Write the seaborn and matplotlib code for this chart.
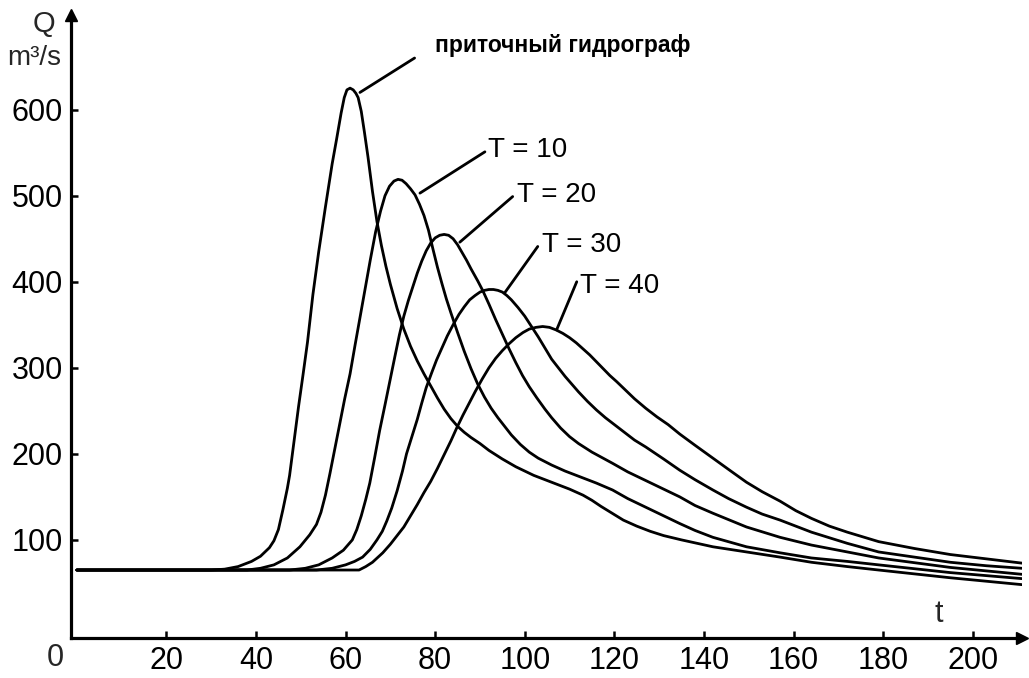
import matplotlib
matplotlib.use("Agg")
import matplotlib.pyplot as plt
import pandas as pd
import seaborn as sns

# --- hydrograph data: time t and discharge Q (m3/s) ---
t_inflow = [0, 30, 33, 36, 39, 41, 43, 44, 45, 46, 47, 47.5, 48.5, 49.5, 50.5, 51.5,
            52.7, 54, 55.5, 57, 58, 59, 59.7, 60.3, 61, 61.7, 62.3, 62.8, 63.5,
            64.2, 65, 66, 67, 68, 69, 70, 71.5, 73, 74.5, 76, 77.5, 79, 80.5, 82,
            83.5, 85, 86.5, 88, 90, 92, 95, 98, 102, 106, 110, 113, 115, 117, 119.5,
            122, 125, 128, 131, 135, 142, 149.5, 157, 164, 172, 179, 195, 211]
q_inflow = [65, 65, 66, 69, 75, 81, 91, 99, 112, 135, 160, 175, 215, 255, 292, 330,
            385, 435, 487, 537, 566, 596, 614, 623, 625, 623, 619, 614, 598,
            574, 545, 505, 470, 442, 418, 397, 369, 345, 325, 308, 293, 279, 265,
            252, 241, 232, 225, 219, 212, 204, 194, 185, 175, 167, 159, 152, 146,
            139, 131, 123, 116, 110, 105, 100, 92, 86, 80, 74, 69, 65, 56, 48]

t_T10 = [0, 38, 41, 44, 47, 49.8, 52, 53.5, 54.5, 55.5, 56.5, 57.6, 58.7, 59.8, 61,
         62.1, 63.2, 64.3, 65.5, 66.7, 67.8, 68.8, 69.8, 70.8, 71.7, 72.6, 73.5,
         74.5, 75.5, 76.5, 77.5, 78.5, 79.5, 80.5, 81.5, 82.5, 83.5, 85, 86.5, 88,
         89.5, 91, 92.5, 94, 95.5, 97, 99, 101, 103, 106, 109, 112, 116, 119.6, 123,
         127, 131, 134.6, 138, 142, 149.5, 157, 164, 172, 179, 195, 211]
q_T10 = [65, 65, 67, 71, 79, 92, 106, 118, 132, 152, 177, 206, 235, 264, 293,
         326, 358, 390, 425, 458, 482, 500, 511, 517, 519, 518, 514,
         508, 501, 490, 477, 460, 438, 417, 398, 380, 364, 341, 319, 299,
         281, 266, 253, 242, 232, 222, 211, 202, 195, 187, 180, 174, 166, 158, 148,
         138, 128, 119, 111, 103, 92, 85, 79, 75, 71, 62, 55]

t_T20 = [0, 47.5, 51, 54, 57, 59.5, 61.5, 62.5, 63.5, 64.5, 65.4, 66.5, 67.6, 68.8,
         69.9, 71, 72, 73, 74, 75, 76, 77, 78, 79, 80, 81, 82, 83, 84, 85, 86, 87,
         88, 89.5, 90.6, 92, 93.5, 95, 96.5, 98, 99.5, 101, 102.7, 104.5, 106, 108,
         110, 112, 115, 119.6, 123, 127, 131, 134.6, 138, 142, 149.5, 157, 164, 172,
         179, 195, 211]
q_T20 = [65, 65, 67, 71, 79, 88, 100, 112, 128, 147, 166, 196, 227, 257,
         285, 313, 338, 360, 378, 394, 410, 424, 436, 445, 451, 454, 455, 454,
         450, 443, 434, 425, 415, 401, 390, 374, 356, 339, 322, 306, 291, 278,
         265, 252, 242, 230, 220, 212, 202, 189, 179, 169, 159, 150, 140, 131,
         115, 103, 94, 86, 79, 68, 60]

t_T30 = [0, 53.5, 57, 60, 62, 63.8, 65.5, 67, 68.2, 69.2, 70.3, 71.5, 72.7, 73.6,
         74.8, 76, 77, 78, 79.2, 80.3, 81.5, 82.7, 84, 85.3, 86.5, 87.7, 88.9, 90,
         91, 92, 93, 94, 95, 96, 97, 98.5, 100, 101.5, 103, 104.5, 106, 107.5, 109,
         110.5, 112, 114, 116, 118, 120, 122, 124.5, 127, 131, 134.6, 138, 142,
         145.5, 149.5, 153, 157, 160.5, 164, 172, 179, 187, 195, 203, 211]
q_T30 = [65, 65, 67, 71, 75, 80, 89, 100, 110, 122, 137, 157, 180, 200,
         220, 240, 259, 277, 294, 309, 323, 337, 350, 362, 371, 379, 384, 388,
         390, 391, 391, 390, 388, 384, 379, 370, 360, 348, 336, 323, 310, 300, 290,
         281, 272, 261, 251, 242, 234, 226, 216, 208, 194, 181, 170, 158,
         148, 138, 130, 123, 116, 109, 96, 86, 80, 74, 70, 67]

t_T40 = [0, 63, 64.5, 66, 68.3, 70, 71.5, 73, 74.5, 76, 77.5, 79, 80.5, 82, 83.5,
         84.8, 86.2, 87.6, 89, 90.5, 92, 93.5, 95, 96.5, 98, 99.6, 101, 102.5, 104,
         105.5, 107, 108.5, 110, 111.5, 113, 114.5, 116, 117.5, 119, 120.5, 122.5,
         124.5, 127, 129.5, 132, 134.6, 138, 142, 146, 149.5, 153, 157, 160.5, 164,
         168, 172, 179, 187, 195, 203, 211]
q_T40 = [65, 65, 69, 74, 85, 95, 105, 115, 128, 141, 155, 168, 183, 199, 215,
         230, 245, 259, 273, 287, 300, 311, 320, 328, 335, 341, 345, 347, 348,
         347, 344, 340, 335, 329, 322, 315, 307, 299, 291, 284, 274,
         264, 253, 243, 234, 223, 210, 195, 180, 167, 156, 145, 134, 125,
         116, 109, 98, 90, 83, 78, 73]

series_names = ["приточный гидрограф", "T = 10", "T = 20", "T = 30", "T = 40"]
x_ticks = [20, 40, 60, 80, 100, 120, 140, 160, 180, 200]
y_ticks = [100, 200, 300, 400, 500, 600]

frames = []
for name, tt, qq in zip(series_names,
                        [t_inflow, t_T10, t_T20, t_T30, t_T40],
                        [q_inflow, q_T10, q_T20, q_T30, q_T40]):
    frames.append(pd.DataFrame({"t": tt, "Q": qq, "series": name}))
df = pd.concat(frames, ignore_index=True)

sns.set_theme(style="ticks")
plt.rcParams["font.family"] = ["Liberation Sans", "DejaVu Sans"]

W, H = 1029, 678
fig = plt.figure(figsize=(W / 100, H / 100), dpi=100)
ax = fig.add_axes([71 / W, 40 / H, (1022 - 71) / W, (638 - 15) / H])

sns.lineplot(data=df, x="t", y="Q", hue="series", palette=["black"] * 5,
             estimator=None, sort=False, legend=False, linewidth=2.0, ax=ax,
             solid_joinstyle="round", solid_capstyle="round")

ax.set_xlim(-1.3, 211)
ax.set_ylim(-14, 710)

for side in ("top", "right"):
    ax.spines[side].set_visible(False)
for side in ("left", "bottom"):
    ax.spines[side].set_linewidth(2.3)
    ax.spines[side].set_color("black")

# arrow heads at the ends of both axes
ax.plot(1, 0, marker=">", color="black", markersize=9, transform=ax.transAxes,
        clip_on=False)
ax.plot(0, 1, marker="^", color="black", markersize=9, transform=ax.transAxes,
        clip_on=False)

ax.set_xticks(x_ticks)
ax.set_yticks(y_ticks)
ax.set_xticklabels([str(v) for v in x_ticks])
ax.set_yticklabels([str(v) for v in y_ticks])
ax.tick_params(axis="both", direction="in", length=5, width=1.8, color="black",
               labelsize=22, labelcolor="black")
ax.tick_params(axis="x", pad=6)
ax.tick_params(axis="y", pad=6)
ax.set_xlabel("")
ax.set_ylabel("")

# origin label and axis names
fig.text(55 / W, 1 - 658 / H, "0", fontsize=22, ha="center", va="center")
fig.text(44 / W, 1 - 24 / H, "Q", fontsize=21, ha="center", va="center")
fig.text(34 / W, 1 - 58 / H, "m³/s", fontsize=20, ha="center", va="center")
ax.text(192.5, 5, "t", fontsize=22, ha="center", va="baseline")

# leader lines and curve labels
labels = [
    # (text, curve point, line end, text anchor, fontsize, weight)
    (series_names[0], (63.2, 620), (75.4, 660), (79.9, 667), 16.5, "bold"),
    (series_names[1], (76.6, 503), (91.1, 551), (91.9, 545), 20, "normal"),
    (series_names[2], (85.5, 446), (97.3, 499), (98.3, 493), 20, "normal"),
    (series_names[3], (95.5, 387), (102.9, 441), (103.9, 434), 20, "normal"),
    (series_names[4], (107.1, 344), (111.6, 400), (112.4, 387), 20, "normal"),
]
for text, p0, p1, pt, fs, fw in labels:
    ax.plot([p0[0], p1[0]], [p0[1], p1[1]], color="black", linewidth=2.0,
            solid_capstyle="round")
    ax.text(pt[0], pt[1], text, fontsize=fs, fontweight=fw, ha="left",
            va="baseline", color="black")

fig.savefig("out.png", dpi=100, facecolor="white")
